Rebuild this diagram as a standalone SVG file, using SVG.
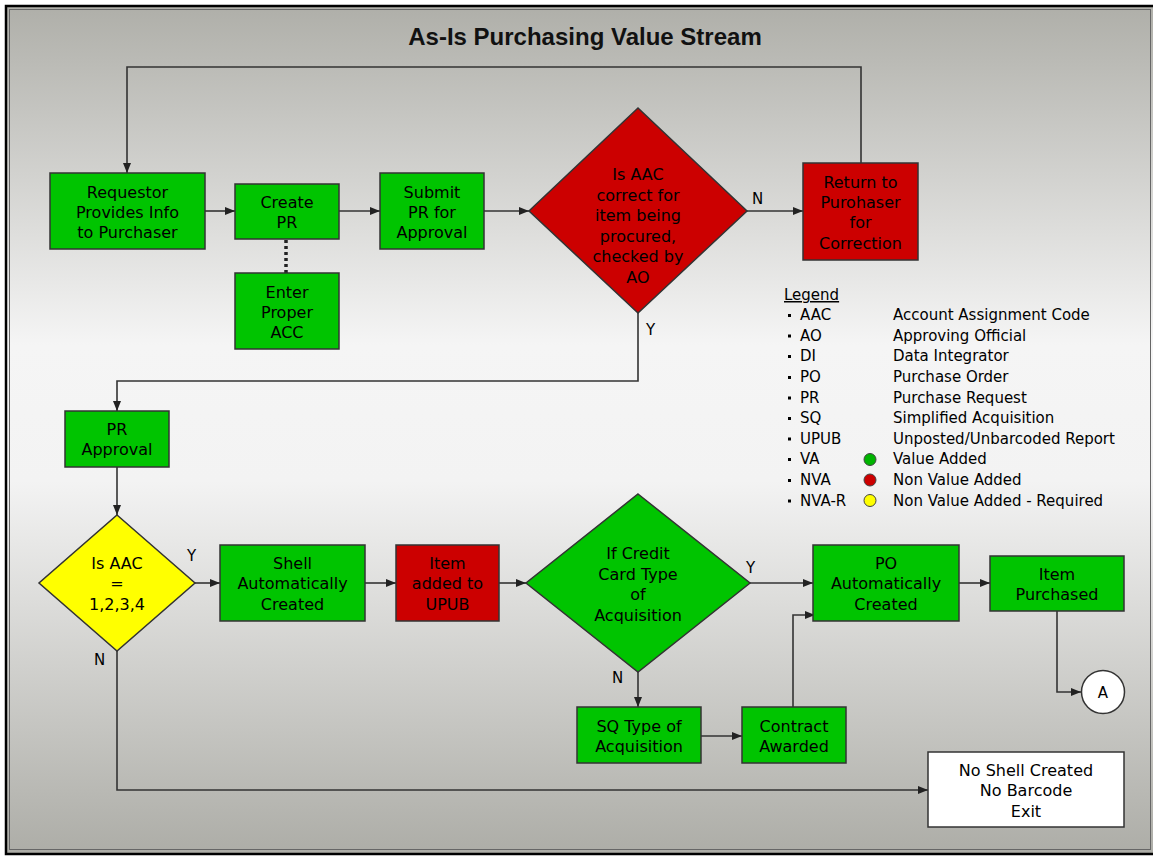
<svg xmlns="http://www.w3.org/2000/svg" width="1153" height="856" viewBox="0 0 1153 856">
<defs>
<linearGradient id="bg" x1="0" y1="0" x2="0" y2="1">
<stop offset="0" stop-color="#afafa9"/>
<stop offset="0.4" stop-color="#f5f5f5"/>
<stop offset="0.56" stop-color="#f3f3f3"/>
<stop offset="1" stop-color="#adada7"/>
</linearGradient>
<marker id="ah" markerUnits="userSpaceOnUse" markerWidth="10" markerHeight="10" viewBox="0 0 10 10" refX="10" refY="5" orient="auto">
<path d="M0,1 L10,5 L0,9 z" fill="#222"/>
</marker>
</defs>
<style>
.t{font-family:"DejaVu Sans",Verdana,sans-serif;font-size:16px;fill:#000;text-anchor:middle}
.lg{font-family:"DejaVu Sans",Verdana,sans-serif;font-size:15px;fill:#000}
.yn{font-family:"DejaVu Sans",Verdana,sans-serif;font-size:15px;fill:#000}
.g{fill:#00c400;stroke:#333;stroke-width:1.5}
.r{fill:#cc0000;stroke:#333;stroke-width:1.5}
.y{fill:#ffff00;stroke:#333;stroke-width:1.5}
.w{fill:#fff;stroke:#333;stroke-width:1.5}
.c{fill:none;stroke:#333;stroke-width:1.6}
.ca{fill:none;stroke:#333;stroke-width:1.6;marker-end:url(#ah)}
.b{fill:#000}
</style>
<rect x="0" y="0" width="1153" height="856" fill="#fff"/>
<rect x="6" y="6" width="1150" height="848" fill="url(#bg)" stroke="#000" stroke-width="2.5"/>
<rect x="9.5" y="9.5" width="1141" height="840" fill="none" stroke="#666" stroke-width="1"/>

<text x="585" y="45" style="font-family:'Liberation Sans',Arial,sans-serif;font-size:24px;font-weight:bold;text-anchor:middle" fill="#111">As-Is Purchasing Value Stream</text>

<g id="connectors">
<path class="ca" d="M861,163 V67 H127 V173"/>
<path class="ca" d="M205,211 H235"/>
<path class="ca" d="M339,211 H380"/>
<path class="ca" d="M484,211 H529"/>
<path class="ca" d="M747,211 H803"/>
<path class="ca" d="M638,313 V381 H117 V411"/>
<path d="M286,240 V273" fill="none" stroke="#222" stroke-width="3.5" stroke-dasharray="3,3"/>
<path class="ca" d="M117,467 V515"/>
<path class="ca" d="M195,583 H220"/>
<path class="ca" d="M365,583 H396"/>
<path class="ca" d="M499,583 H526"/>
<path class="ca" d="M750,583 H813"/>
<path class="ca" d="M638,672 V707"/>
<path class="ca" d="M701,736 H742"/>
<path class="ca" d="M793,707 V615 H815"/>
<path class="ca" d="M959,583 H990"/>
<path class="ca" d="M1057,611 V692 H1081"/>
<path class="ca" d="M117,651 V790 H928"/>
<text class="yn" x="752" y="204">N</text>
<text class="yn" x="646" y="335">Y</text>
<text class="yn" x="187" y="561">Y</text>
<text class="yn" x="94" y="665">N</text>
<text class="yn" x="746" y="573">Y</text>
<text class="yn" x="612" y="683">N</text>
</g>

<g id="requestor">
<rect class="g" x="50" y="173" width="155" height="76"/>
<text class="t" x="127.5" y="197.5">Requestor</text>
<text class="t" x="127.5" y="217.5">Provides Info</text>
<text class="t" x="127.5" y="238">to Purchaser</text>
</g>
<g id="create-pr">
<rect class="g" x="235" y="184" width="104" height="55"/>
<text class="t" x="287" y="207.5">Create</text>
<text class="t" x="287" y="228">PR</text>
</g>
<g id="enter-acc">
<rect class="g" x="235" y="273" width="104" height="76"/>
<text class="t" x="287" y="297.5">Enter</text>
<text class="t" x="287" y="318">Proper</text>
<text class="t" x="287" y="338">ACC</text>
</g>
<g id="submit-pr">
<rect class="g" x="380" y="173" width="104" height="76"/>
<text class="t" x="432" y="197.5">Submit</text>
<text class="t" x="432" y="217.5">PR for</text>
<text class="t" x="432" y="238">Approval</text>
</g>
<g id="aac-check">
<polygon class="r" points="638,108 747,211 638,313 529,211"/>
<text class="t" x="638" y="180">Is AAC</text>
<text class="t" x="638" y="200.5">correct for</text>
<text class="t" x="638" y="221">item being</text>
<text class="t" x="638" y="241.5">procured,</text>
<text class="t" x="638" y="262">checked by</text>
<text class="t" x="638" y="282.5">AO</text>
</g>
<g id="return">
<rect class="r" x="803" y="163" width="115" height="97"/>
<text class="t" x="860.5" y="187.5">Return to</text>
<text class="t" x="860.5" y="208">Purohaser</text>
<text class="t" x="860.5" y="228">for</text>
<text class="t" x="860.5" y="248.5">Correction</text>
</g>
<g id="pr-approval">
<rect class="g" x="65" y="411" width="104" height="56"/>
<text class="t" x="117" y="434.5">PR</text>
<text class="t" x="117" y="455">Approval</text>
</g>
<g id="aac-1234">
<polygon class="y" points="117,515 195,583 117,651 39,583"/>
<text class="t" x="117" y="568.5">Is AAC</text>
<text class="t" x="117" y="589">=</text>
<text class="t" x="117" y="609.5">1,2,3,4</text>
</g>
<g id="shell">
<rect class="g" x="220" y="545" width="145" height="76"/>
<text class="t" x="292.5" y="568.5">Shell</text>
<text class="t" x="292.5" y="589">Automatically</text>
<text class="t" x="292.5" y="609.5">Created</text>
</g>
<g id="upub">
<rect class="r" x="396" y="545" width="103" height="76"/>
<text class="t" x="447.5" y="568.5">Item</text>
<text class="t" x="447.5" y="589">added to</text>
<text class="t" x="447.5" y="609.5">UPUB</text>
</g>
<g id="credit-card">
<polygon class="g" points="638,494 750,583 638,672 526,583"/>
<text class="t" x="638" y="558.5">If Credit</text>
<text class="t" x="638" y="579.5">Card Type</text>
<text class="t" x="638" y="600">of</text>
<text class="t" x="638" y="620.5">Acquisition</text>
</g>
<g id="po">
<rect class="g" x="813" y="545" width="146" height="76"/>
<text class="t" x="886" y="568.5">PO</text>
<text class="t" x="886" y="589">Automatically</text>
<text class="t" x="886" y="609.5">Created</text>
</g>
<g id="item-purchased">
<rect class="g" x="990" y="556" width="134" height="55"/>
<text class="t" x="1057" y="579.5">Item</text>
<text class="t" x="1057" y="600">Purchased</text>
</g>
<g id="connector-a">
<circle class="w" cx="1103" cy="692" r="21.5"/>
<text class="t" x="1103" y="697.5" style="font-size:15px">A</text>
</g>
<g id="sq">
<rect class="g" x="577" y="707" width="124" height="56"/>
<text class="t" x="639" y="731.5">SQ Type of</text>
<text class="t" x="639" y="752">Acquisition</text>
</g>
<g id="contract">
<rect class="g" x="742" y="707" width="104" height="56"/>
<text class="t" x="794" y="731.5">Contract</text>
<text class="t" x="794" y="752">Awarded</text>
</g>
<g id="no-shell">
<rect class="w" x="928" y="752" width="196" height="75"/>
<text class="t" x="1026" y="775.5">No Shell Created</text>
<text class="t" x="1026" y="796">No Barcode</text>
<text class="t" x="1026" y="816.5">Exit</text>
</g>

<g id="legend">
<text class="lg" x="784" y="300" text-decoration="underline">Legend</text>
<rect class="b" x="788" y="314" width="3" height="3"/>
<rect class="b" x="788" y="334.5" width="3" height="3"/>
<rect class="b" x="788" y="355" width="3" height="3"/>
<rect class="b" x="788" y="376" width="3" height="3"/>
<rect class="b" x="788" y="396.5" width="3" height="3"/>
<rect class="b" x="788" y="417" width="3" height="3"/>
<rect class="b" x="788" y="437.5" width="3" height="3"/>
<rect class="b" x="788" y="458" width="3" height="3"/>
<rect class="b" x="788" y="479" width="3" height="3"/>
<rect class="b" x="788" y="499.5" width="3" height="3"/>
<text class="lg" x="800" y="320">AAC</text><text class="lg" x="893" y="320">Account Assignment Code</text>
<text class="lg" x="800" y="340.5">AO</text><text class="lg" x="893" y="340.5">Approving Official</text>
<text class="lg" x="800" y="361">DI</text><text class="lg" x="893" y="361">Data Integrator</text>
<text class="lg" x="800" y="382">PO</text><text class="lg" x="893" y="382">Purchase Order</text>
<text class="lg" x="800" y="402.5">PR</text><text class="lg" x="893" y="402.5">Purchase Request</text>
<text class="lg" x="800" y="423">SQ</text><text class="lg" x="893" y="423">Simplified Acquisition</text>
<text class="lg" x="800" y="443.5">UPUB</text><text class="lg" x="893" y="443.5">Unposted/Unbarcoded Report</text>
<text class="lg" x="800" y="464">VA</text><text class="lg" x="893" y="464">Value Added</text>
<text class="lg" x="800" y="485">NVA</text><text class="lg" x="893" y="485">Non Value Added</text>
<text class="lg" x="800" y="505.5">NVA-R</text><text class="lg" x="893" y="505.5">Non Value Added - Required</text>
<circle cx="870" cy="459.5" r="6" fill="#00b400" stroke="#444" stroke-width="1"/>
<circle cx="870" cy="480" r="6" fill="#cc0000" stroke="#444" stroke-width="1"/>
<circle cx="870" cy="500.5" r="6" fill="#ffff00" stroke="#444" stroke-width="1"/>
</g>
</svg>
